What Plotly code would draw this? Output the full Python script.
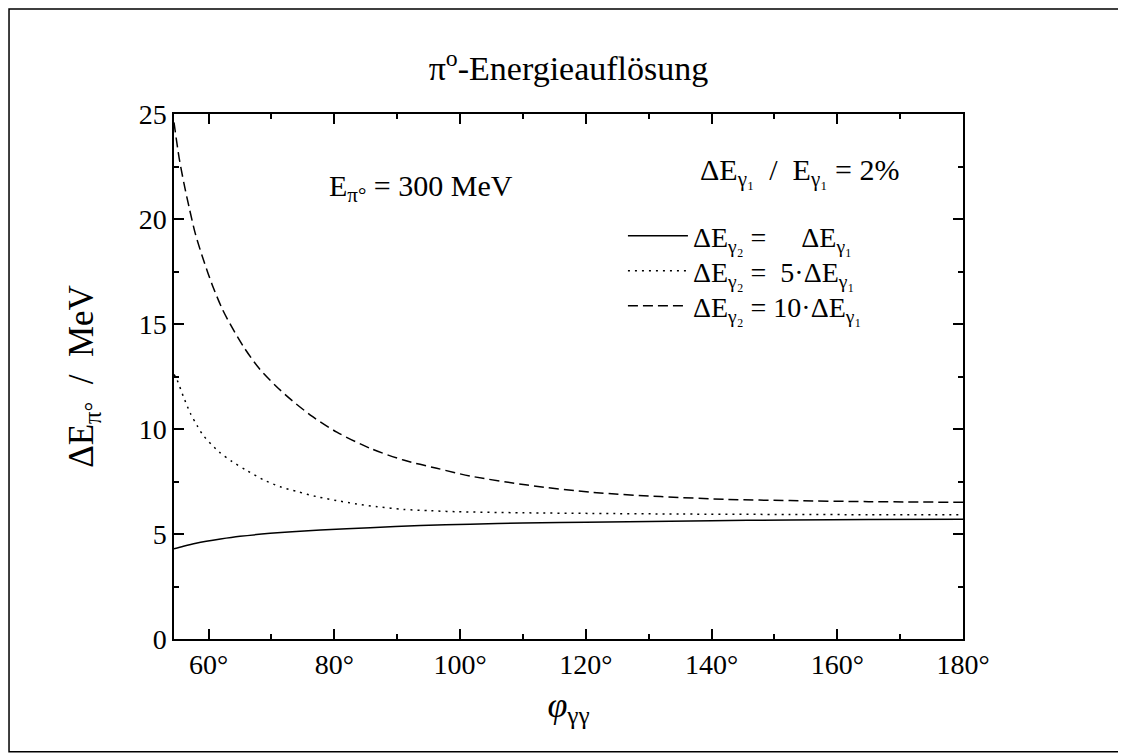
import plotly.graph_objects as go

# ---- data ----
x_equal = [54.5, 56.0, 58.0, 61.9, 65.0, 69.8, 73.3, 77.8, 85.7, 93.7, 101.6, 110.0, 120.0, 140.0, 152.5, 165.0, 180.0]
y_equal = [4.30, 4.42, 4.56, 4.76, 4.89, 5.03, 5.11, 5.19, 5.30, 5.40, 5.47, 5.52, 5.56, 5.63, 5.67, 5.69, 5.70]

x_five = [54.5, 55.0, 56.0, 57.1, 58.2, 59.2, 61.7, 63.7, 66.1, 68.8, 71.4, 74.1, 77.2, 80.4, 83.6, 86.8,
          91.0, 95.3, 99.5, 110.0, 121.0, 135.0, 152.5, 165.0, 180.0]
y_five = [12.60, 12.33, 11.54, 10.75, 10.15, 9.68, 8.90, 8.46, 8.02, 7.57, 7.25, 7.02, 6.78, 6.59, 6.43, 6.30,
          6.17, 6.11, 6.06, 6.01, 5.98, 5.95, 5.93, 5.92, 5.92]

x_ten = [54.5, 55.3, 56.1, 56.9, 57.9, 59.3, 60.6, 62.2, 63.8, 65.6, 68.0, 70.7, 73.3, 76.5, 80.4, 85.7,
         91.0, 96.3, 101.6, 110.7, 121.2, 131.9, 142.5, 152.5, 165.0, 180.0]
y_ten = [24.60, 22.94, 21.67, 20.56, 19.29, 17.95, 16.85, 15.70, 14.80, 13.90, 12.90, 12.05, 11.35, 10.60,
         9.85, 9.08, 8.52, 8.13, 7.76, 7.33, 6.98, 6.78, 6.65, 6.59, 6.54, 6.51]

series_names = [
    "ΔE<sub>γ₂</sub> =\u00a0\u00a0\u00a0\u00a0\u00a0ΔE<sub>γ₁</sub>",
    "ΔE<sub>γ₂</sub> =\u00a0\u00a05·ΔE<sub>γ₁</sub>",
    "ΔE<sub>γ₂</sub> = 10·ΔE<sub>γ₁</sub>",
]
x_tick_vals = [60, 80, 100, 120, 140, 160, 180]
x_tick_text = ["60°", "80°", "100°", "120°", "140°", "160°", "180°"]
y_tick_vals = [0, 5, 10, 15, 20, 25]

FONT = "Liberation Serif"

fig = go.Figure()
fig.add_trace(go.Scatter(x=x_equal, y=y_equal, mode="lines", name=series_names[0], legend="legend",
                         line=dict(color="black", width=1.5, shape="spline", smoothing=0.8)))
fig.add_trace(go.Scatter(x=x_five, y=y_five, mode="lines", name=series_names[1], legend="legend2",
                         line=dict(color="black", width=1.5, dash="2px,5px", shape="spline", smoothing=0.8)))
fig.add_trace(go.Scatter(x=x_ten, y=y_ten, mode="lines", name=series_names[2], legend="legend3",
                         line=dict(color="black", width=1.5, dash="10px,5px", shape="spline", smoothing=0.8)))

axis_common = dict(
    showline=True, linecolor="black", linewidth=1.5, mirror="ticks",
    ticks="inside", ticklen=10, tickwidth=1.5, tickcolor="black",
    showgrid=False, zeroline=False,
    tickfont=dict(family=FONT, size=28, color="black"),
)

fig.update_xaxes(
    range=[54.5, 180], tickvals=x_tick_vals, ticktext=x_tick_text,
    minor=dict(dtick=10, tick0=0, ticks="inside", ticklen=5, tickwidth=1.5, tickcolor="black"),
    title=dict(text="<i>φ</i><sub>γγ</sub>", font=dict(family=FONT, size=36, color="black"), standoff=12),
    **axis_common,
)
fig.update_yaxes(
    range=[0, 25], tickvals=y_tick_vals,
    minor=dict(dtick=2.5, tick0=0, ticks="inside", ticklen=5, tickwidth=1.5, tickcolor="black"),
    title=dict(text="ΔE<sub>π°</sub>\u00a0\u00a0/\u00a0\u00a0MeV", font=dict(family=FONT, size=35, color="black"), standoff=34),
    **axis_common,
)

fig.add_annotation(x=93.8, y=21.5, xref="x", yref="y", showarrow=False,
                   text="E<sub>π°</sub> = 300 MeV", font=dict(family=FONT, size=30, color="black"))
fig.add_annotation(x=137.8, y=22.25, xref="x", yref="y", xanchor="left", showarrow=False,
                   text="ΔE<sub>γ₁</sub>\u00a0 /\u00a0 E<sub>γ₁</sub> = 2%",
                   font=dict(family=FONT, size=30, color="black"))

# outer frame around the whole figure
fig.add_shape(type="rect", xref="paper", yref="paper",
              x0=-0.2091, x1=1.2015, y0=-0.2147, y1=1.2,
              line=dict(color="black", width=1.5))

leg_common = dict(xanchor="left", yanchor="middle", bgcolor="rgba(0,0,0,0)",
                  font=dict(family=FONT, size=28, color="black"), itemwidth=60)

fig.update_layout(
    width=1126, height=753,
    margin=dict(l=166, r=171, t=106, b=122),
    paper_bgcolor="white", plot_bgcolor="white",
    font=dict(family=FONT, color="black"),
    title=dict(text="π<sup>o</sup>-Energieauflösung", x=0.5, xref="paper",
               y=1 - 60 / 753, yref="container", yanchor="middle", xanchor="center",
               font=dict(family=FONT, size=34, color="black")),
    legend=dict(x=0.569, y=(639 - 236) / 525, **leg_common),
    legend2=dict(x=0.569, y=(639 - 271) / 525, **leg_common),
    legend3=dict(x=0.569, y=(639 - 306) / 525, **leg_common),
    showlegend=True,
)

fig.write_html("out.html")
